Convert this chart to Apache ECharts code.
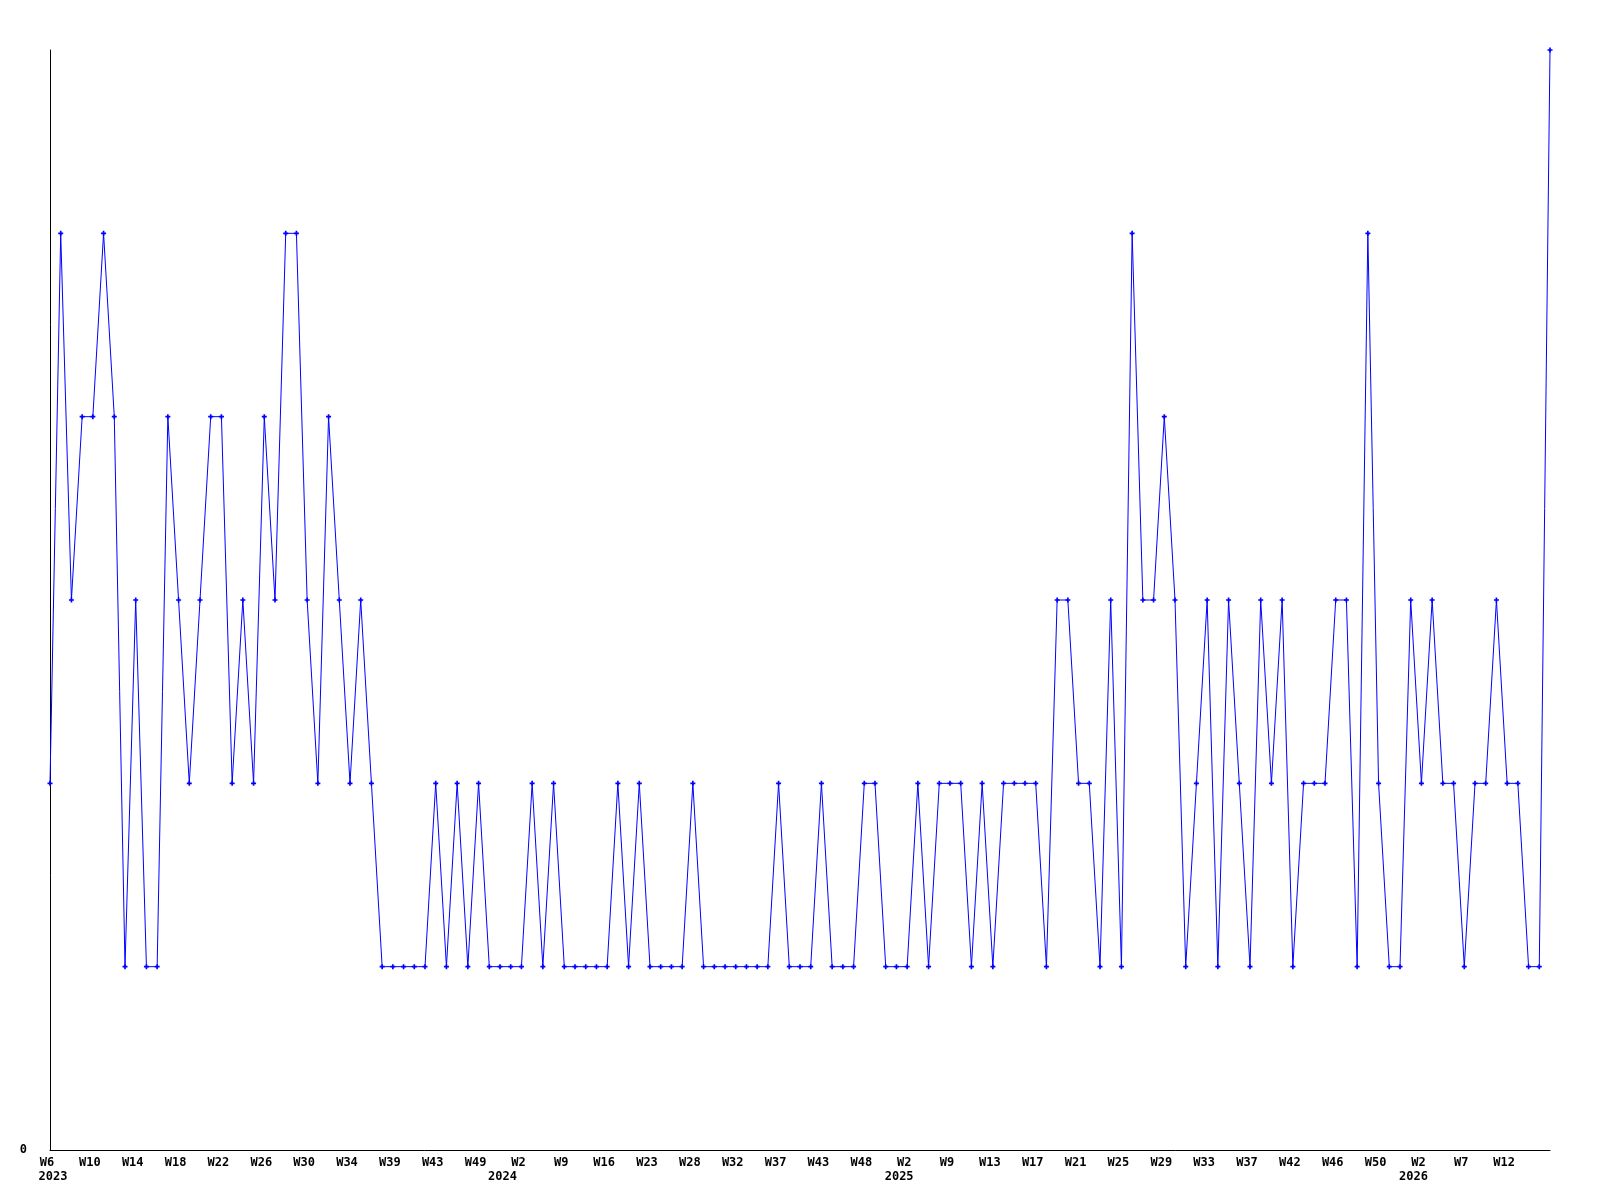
<!DOCTYPE html>
<html>
<head>
<meta charset="utf-8">
<script src="https://cdn.jsdelivr.net/npm/echarts@6/dist/echarts.min.js"></script>
<style>html,body{margin:0;padding:0;background:#fff}#c{width:1600px;height:1200px}</style>
</head>
<body>
<div id="c"></div>
<script>
// ISO weeks (year-week) for each data point
var categories = [
 '2023-W06','2023-W07','2023-W08','2023-W09','2023-W10','2023-W11','2023-W12','2023-W13','2023-W14','2023-W15',
 '2023-W16','2023-W17','2023-W18','2023-W19','2023-W20','2023-W21','2023-W22','2023-W23','2023-W24','2023-W25',
 '2023-W26','2023-W27','2023-W28','2023-W29','2023-W30','2023-W31','2023-W32','2023-W33','2023-W34','2023-W35',
 '2023-W36','2023-W37','2023-W39','2023-W40','2023-W41','2023-W42','2023-W43','2023-W44','2023-W46','2023-W47',
 '2023-W49','2023-W50','2023-W51','2023-W52','2024-W02','2024-W04','2024-W06','2024-W07','2024-W09','2024-W11',
 '2024-W13','2024-W14','2024-W16','2024-W18','2024-W19','2024-W21','2024-W23','2024-W24','2024-W25','2024-W27',
 '2024-W28','2024-W29','2024-W30','2024-W31','2024-W32','2024-W33','2024-W34','2024-W36','2024-W37','2024-W38',
 '2024-W40','2024-W41','2024-W43','2024-W44','2024-W45','2024-W47','2024-W48','2024-W49','2024-W50','2024-W52',
 '2025-W02','2025-W04','2025-W05','2025-W07','2025-W09','2025-W10','2025-W11','2025-W12','2025-W13','2025-W14',
 '2025-W15','2025-W16','2025-W17','2025-W18','2025-W19','2025-W20','2025-W21','2025-W22','2025-W23','2025-W24',
 '2025-W25','2025-W26','2025-W27','2025-W28','2025-W29','2025-W30','2025-W31','2025-W32','2025-W33','2025-W34',
 '2025-W35','2025-W36','2025-W37','2025-W38','2025-W39','2025-W41','2025-W42','2025-W43','2025-W44','2025-W45',
 '2025-W46','2025-W47','2025-W48','2025-W49','2025-W50','2025-W51','2025-W52','2026-W01','2026-W02','2026-W03',
 '2026-W04','2026-W06','2026-W07','2026-W08','2026-W09','2026-W11','2026-W12','2026-W13','2026-W14','2026-W15',
 '2026-W16'
];
var counts = [
 2,5,3,4,4,5,4,1,3,1,1,4,3,2,3,4,4,2,3,2,4,
 3,5,5,3,2,4,3,2,3,2,1,1,1,1,1,2,1,2,1,2,1,1,1,1,
 2,1,2,1,1,1,1,1,2,1,2,1,1,1,1,2,1,1,1,1,1,1,1,2,1,
 1,1,2,1,1,1,2,2,1,1,1,2,1,2,2,2,1,2,1,2,2,2,2,1,
 3,3,2,2,1,3,1,5,3,3,4,3,1,2,3,1,3,2,1,3,2,3,1,2,
 2,2,3,3,1,5,2,1,1,3,2,3,2,2,1,2,2,3,2,2,1,1,6
];
var yMin = 0, yMax = 6;
var yTickLabels = ['0'];

var LABEL_STEP = 4;
function showLabel(i){ return i % LABEL_STEP === 0 && i < categories.length - 1; }
function weekOf(c){ return 'W' + parseInt(c.split('-W')[1], 10); }
function yearOf(c){ return c.split('-W')[0]; }

// horizontal nudges (px) of the year captions relative to their tick, as drawn in the reference
var yearShift = {'2023': 3, '2024': -19, '2025': -8, '2026': -8};
var weekShift = -3;

var font = '"DejaVu Sans Mono", "Liberation Mono", monospace';
var rich = {
  w: {fontFamily: font, fontWeight: 'bold', fontSize: 12, color: '#000', lineHeight: 14,
      padding: [0, -2 * weekShift, 0, 0]}
};
Object.keys(yearShift).forEach(function(y){
  var d = yearShift[y];
  rich['y' + y] = {fontFamily: font, fontWeight: 'bold', fontSize: 12, color: '#000', lineHeight: 14,
    padding: d >= 0 ? [0, 0, 0, 2 * d] : [0, -2 * d, 0, 0]};
});

var chart = echarts.init(document.getElementById('c'), null, {renderer:'canvas'});
chart.setOption({
  animation: false,
  backgroundColor: '#ffffff',
  grid: {left: 50, right: 50, top: 50, bottom: 50, containLabel: false},
  xAxis: {
    type: 'category',
    data: categories,
    boundaryGap: false,
    axisLine: {show: true, lineStyle: {color: '#000', width: 1}},
    axisTick: {show: false},
    splitLine: {show: false},
    axisLabel: {
      interval: function(i){ return showLabel(i); },
      margin: 6,
      color: '#000',
      fontFamily: font,
      fontWeight: 'bold',
      fontSize: 12,
      lineHeight: 14,
      rich: rich,
      formatter: function(v, i){
        var s = '{w|' + weekOf(v) + '}';
        var prevIdx = i - LABEL_STEP;
        if (i === 0 || (prevIdx >= 0 && yearOf(categories[prevIdx]) !== yearOf(v))) {
          s += '\n{y' + yearOf(v) + '|' + yearOf(v) + '}';
        }
        return s;
      }
    }
  },
  yAxis: {
    type: 'value',
    min: yMin, max: yMax, interval: 1,
    axisLine: {show: true, lineStyle: {color: '#000', width: 1}},
    axisTick: {show: false},
    splitLine: {show: false},
    axisLabel: {
      margin: 23,
      color: '#000',
      fontFamily: font,
      fontWeight: 'bold',
      fontSize: 12,
      formatter: function(v){ return yTickLabels.indexOf(String(v)) >= 0 ? String(v) : ''; }
    }
  },
  series: [{
    type: 'line',
    data: counts,
    symbol: 'path://M2,0L4,0L4,2L6,2L6,4L4,4L4,6L2,6L2,4L0,4L0,2L2,2Z',
    symbolSize: 5,
    showAllSymbol: true,
    clip: true,
    lineStyle: {color: '#0000ff', width: 1},
    itemStyle: {color: '#0000ff', borderWidth: 0}
  }]
});
</script>
</body>
</html>
